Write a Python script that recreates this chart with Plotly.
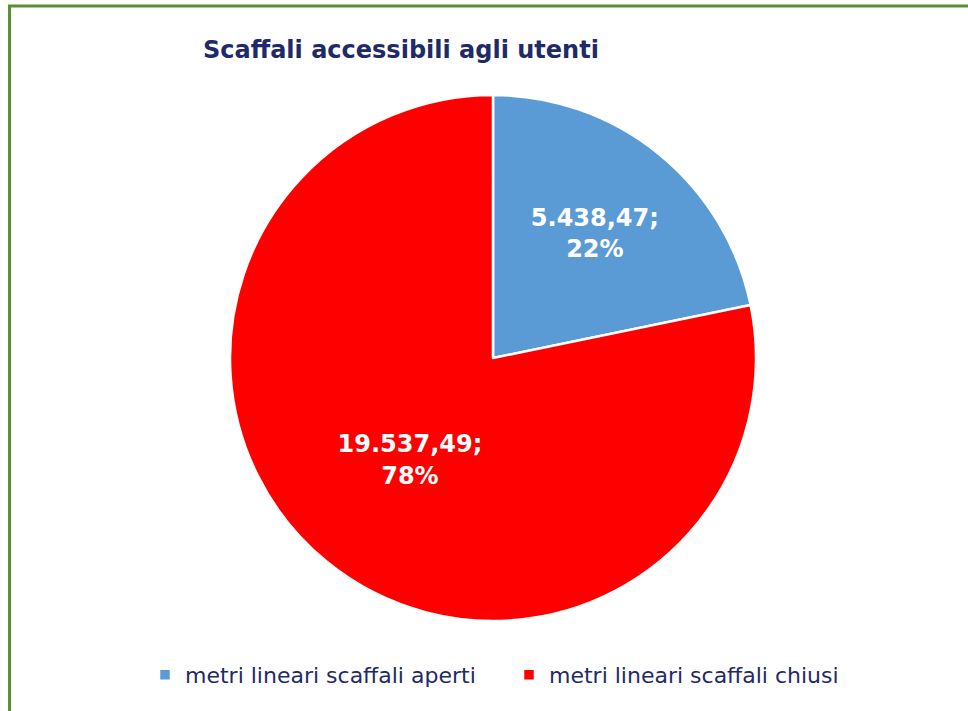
import plotly.graph_objects as go

labels = ["metri lineari scaffali aperti", "metri lineari scaffali chiusi"]
values = [5438.47, 19537.49]
colors = ["#5B9BD5", "#FF0000"]
title_text = "Scaffali accessibili agli utenti"

W, H = 968, 711
cx, cy, r = 493, 358, 263

fig = go.Figure(go.Pie(
    labels=labels,
    values=values,
    sort=False,
    direction="clockwise",
    rotation=0,
    marker=dict(colors=colors, line=dict(color="white", width=2.5)),
    texttemplate="%{value:,.2f};<br>%{percent:.0%}",
    textposition="inside",
    insidetextorientation="horizontal",
    textfont=dict(family="DejaVu Sans", size=24, color="white", weight="bold"),
    hoverinfo="label+value+percent",
    domain=dict(x=[(cx - r) / W, (cx + r) / W], y=[1 - (cy + r) / H, 1 - (cy - r) / H]),
))

fig.update_layout(
    width=W, height=H,
    margin=dict(l=0, r=0, t=0, b=0),
    paper_bgcolor="white",
    separators=",.",
    title=dict(text=title_text, x=203 / W, xanchor="left", xref="paper",
               y=1 - 50 / H, yanchor="middle", yref="container",
               font=dict(family="DejaVu Sans", size=24, color="#1F2A68", weight="bold")),
    legend=dict(orientation="h", x=145 / W, xanchor="left", y=1 - 675 / H, yanchor="middle",
                font=dict(family="DejaVu Sans", size=22, color="#1F2A68"),
                itemwidth=30, traceorder="normal", entrywidth=319, entrywidthmode="pixels"),
    shapes=[dict(type="rect", xref="paper", yref="paper",
                 x0=9.5 / W, x1=1.1, y0=-0.1, y1=1 - 6 / H,
                 line=dict(color="#5B8F2F", width=3), layer="below")],
)

fig.write_html("out.html", config={"displayModeBar": False},
               post_script="document.body.style.margin='0';")
